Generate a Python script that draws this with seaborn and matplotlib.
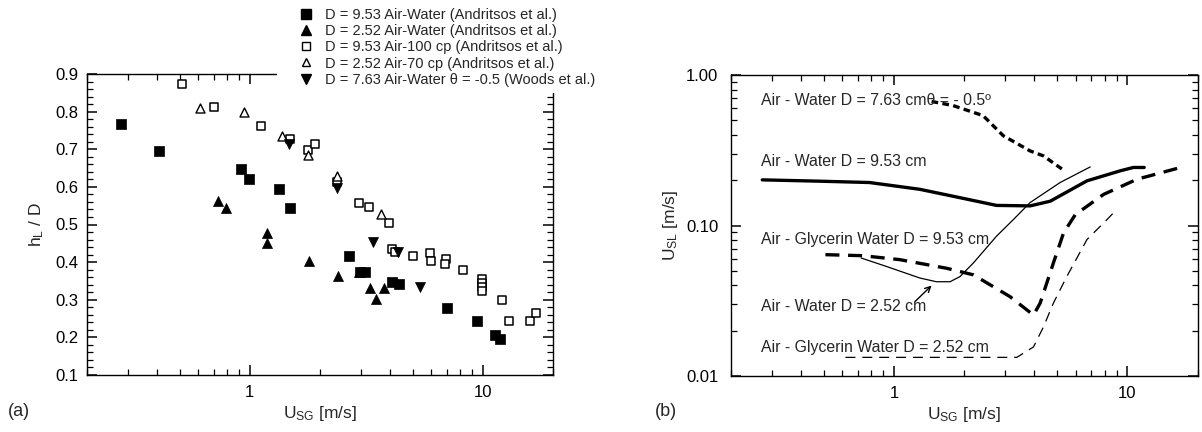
import numpy as np
import pandas as pd
import matplotlib
matplotlib.use("Agg")
import matplotlib.pyplot as plt
import seaborn as sns
from matplotlib.ticker import LogLocator, NullFormatter, MultipleLocator
from matplotlib.lines import Line2D
from matplotlib.patches import Rectangle

# ---------------- data: panel (a) ----------------
aw953_x = [0.28, 0.41, 0.92, 0.99, 1.34, 1.49, 2.65, 2.98, 3.13, 4.06, 4.38, 6.98, 9.45, 11.2, 11.8]
aw953_y = [0.766, 0.695, 0.647, 0.621, 0.595, 0.544, 0.416, 0.375, 0.375, 0.348, 0.341, 0.277, 0.243, 0.206, 0.197]

aw252_x = [0.73, 0.79, 1.19, 1.19, 1.79, 2.39, 2.95, 3.26, 3.48, 3.77]
aw252_y = [0.563, 0.543, 0.478, 0.451, 0.403, 0.363, 0.375, 0.330, 0.302, 0.330]

a100_x = [0.51, 0.70, 1.12, 1.49, 1.77, 1.91, 2.37, 2.95, 3.23, 3.94, 4.07, 4.21, 5.0, 5.95,
          5.98, 6.96, 6.9, 8.2, 9.89, 9.89, 9.89, 9.89, 12.0, 12.9, 15.9, 16.8]
a100_y = [0.873, 0.811, 0.762, 0.727, 0.698, 0.715, 0.614, 0.558, 0.547, 0.503, 0.436, 0.427, 0.416, 0.425,
          0.403, 0.407, 0.394, 0.379, 0.355, 0.345, 0.335, 0.322, 0.299, 0.244, 0.244, 0.264]

a70_x = [0.61, 0.94, 1.37, 1.77, 2.37, 3.66]
a70_y = [0.81, 0.80, 0.735, 0.685, 0.629, 0.528]

woods_x = [1.48, 2.37, 3.36, 4.31, 5.34]
woods_y = [0.713, 0.596, 0.454, 0.426, 0.333]

legend_labels = [
    "D = 9.53 Air-Water (Andritsos et al.)",
    "D = 2.52 Air-Water (Andritsos et al.)",
    "D = 9.53 Air-100 cp (Andritsos et al.)",
    "D = 2.52 Air-70 cp (Andritsos et al.)",
    "D = 7.63 Air-Water θ = -0.5 (Woods et al.)",
]

# ---------------- data: panel (b) ----------------
c763_x = [1.45, 1.79, 2.41, 2.94, 3.83, 4.37, 5.33]
c763_y = [0.667, 0.627, 0.537, 0.395, 0.313, 0.290, 0.233]

c953_x = [0.273, 0.48, 0.786, 1.29, 1.92, 2.75, 3.83, 4.67, 6.71, 9.33, 10.6, 11.8]
c953_y = [0.201, 0.197, 0.193, 0.174, 0.153, 0.136, 0.135, 0.145, 0.198, 0.231, 0.243, 0.243]

c252_x = [0.724, 0.927, 1.29, 1.52, 1.74, 1.92, 2.19, 2.75, 3.25, 3.83, 5.15, 6.93]
c252_y = [0.0608, 0.0535, 0.0448, 0.0423, 0.0423, 0.0458, 0.0564, 0.0849, 0.1096, 0.142, 0.193, 0.245]

g953_x = [0.509, 0.736, 1.06, 1.68, 2.19, 3.14, 3.96, 4.23, 4.82, 5.33, 5.98, 7.91, 11.0, 16.9]
g953_y = [0.064, 0.063, 0.0593, 0.052, 0.047, 0.0337, 0.0254, 0.0305, 0.0564, 0.0894, 0.118, 0.161, 0.203, 0.243]

g252_x = [0.62, 3.36, 3.96, 4.37, 4.82, 5.5, 6.71, 8.18, 8.88]
g252_y = [0.0133, 0.0133, 0.0156, 0.0212, 0.0305, 0.0458, 0.0806, 0.1096, 0.125]

curve_labels = [
    "Air - Water D = 7.63 cmθ = - 0.5º",
    "Air - Water D = 9.53 cm",
    "Air - Glycerin Water D = 9.53 cm",
    "Air - Water D = 2.52 cm",
    "Air - Glycerin Water D = 2.52 cm",
]
curve_text_y = [0.68, 0.268, 0.0806, 0.0288, 0.01556]

# ---------------- style ----------------
sns.set_style("ticks")
plt.rcParams["font.family"] = ["Liberation Sans", "DejaVu Sans"]
plt.rcParams["mathtext.fontset"] = "custom"
plt.rcParams["mathtext.rm"] = "Liberation Sans"
plt.rcParams["mathtext.it"] = "Liberation Sans:italic"
plt.rcParams["axes.linewidth"] = 1.0
plt.rcParams["xtick.direction"] = "in"
plt.rcParams["ytick.direction"] = "in"
plt.rcParams["xtick.top"] = True
plt.rcParams["ytick.right"] = True
plt.rcParams["xtick.color"] = "black"
plt.rcParams["ytick.color"] = "black"

W, H = 1202, 432
fig = plt.figure(figsize=(W / 100, H / 100), dpi=100)
axL = fig.add_axes([86.7 / W, 1 - 375 / H, (553.3 - 86.7) / W, 301 / H])
axR = fig.add_axes([730.7 / W, 1 - 376 / H, (1197.7 - 730.7) / W, 301 / H])

k = "black"
# ---- panel (a) scatter ----
sns.scatterplot(x=aw953_x, y=aw953_y, ax=axL, marker="s", s=58, color=k, edgecolor=k, linewidth=0.5, zorder=3)
sns.scatterplot(x=aw252_x, y=aw252_y, ax=axL, marker="^", s=52, color=k, edgecolor=k, linewidth=0.5, zorder=3)
sns.scatterplot(x=a100_x, y=a100_y, ax=axL, marker="s", s=40, facecolor="white", edgecolor=k, linewidth=1.1, zorder=3)
sns.scatterplot(x=a70_x, y=a70_y, ax=axL, marker="^", s=42, facecolor="white", edgecolor=k, linewidth=1.0, zorder=3)
sns.scatterplot(x=woods_x, y=woods_y, ax=axL, marker="v", s=52, color=k, edgecolor=k, linewidth=0.5, zorder=3)

axL.set_xscale("log")
axL.set_xlim(0.2, 20)
axL.set_ylim(0.1, 0.9)
axL.set_xticks([1, 10])
axL.set_xticklabels(["1", "10"])
axL.xaxis.set_minor_locator(LogLocator(base=10, subs=np.arange(2, 10)))
axL.xaxis.set_minor_formatter(NullFormatter())
axL.yaxis.set_minor_locator(MultipleLocator(0.02))
axL.set_yticks(np.round(np.arange(0.1, 0.91, 0.1), 1))
axL.set_yticklabels([f"{v:.1f}" for v in np.arange(0.1, 0.91, 0.1)])
axL.set_xlabel(r"U$_{\mathrm{SG}}$ [m/s]", fontsize=12.5, labelpad=3)
axL.set_ylabel(r"h$_{\mathrm{L}}$ / D", fontsize=12.5, labelpad=7)

# ---- panel (b) lines ----
sns.lineplot(x=c763_x, y=c763_y, ax=axR, sort=False, estimator=None, color=k, lw=2.4)
axR.lines[-1].set_dashes((2.0, 1.3))
sns.lineplot(x=c953_x, y=c953_y, ax=axR, sort=False, estimator=None, color=k, lw=2.4)
sns.lineplot(x=c252_x, y=c252_y, ax=axR, sort=False, estimator=None, color=k, lw=0.9)
sns.lineplot(x=g953_x, y=g953_y, ax=axR, sort=False, estimator=None, color=k, lw=2.4)
axR.lines[-1].set_dashes((4.2, 2.6))
sns.lineplot(x=g252_x, y=g252_y, ax=axR, sort=False, estimator=None, color=k, lw=0.9)
axR.lines[-1].set_dashes((8.0, 5.5))

axR.set_xscale("log")
axR.set_yscale("log")
axR.set_xlim(0.2, 20)
axR.set_ylim(0.01, 1.0)
axR.set_xticks([1, 10])
axR.set_xticklabels(["1", "10"])
axR.xaxis.set_minor_locator(LogLocator(base=10, subs=np.arange(2, 10)))
axR.xaxis.set_minor_formatter(NullFormatter())
axR.set_yticks([0.01, 0.1, 1.0])
axR.set_yticklabels(["0.01", "0.10", "1.00"])
axR.yaxis.set_minor_locator(LogLocator(base=10, subs=np.arange(2, 10)))
axR.yaxis.set_minor_formatter(NullFormatter())
axR.set_xlabel(r"U$_{\mathrm{SG}}$ [m/s]", fontsize=12.5, labelpad=3)
axR.set_ylabel(r"U$_{\mathrm{SL}}$ [m/s]", fontsize=12.5, labelpad=4)

for lab, ty in zip(curve_labels, curve_text_y):
    axR.text(0.27, ty, lab, fontsize=11.4, ha="left", va="center")
axR.annotate("", xy=(1.45, 0.0399), xytext=(1.23, 0.0312),
             arrowprops=dict(arrowstyle="->", lw=1.0, color=k, shrinkA=0, shrinkB=0))

for ax in (axL, axR):
    ax.tick_params(axis="both", which="both", direction="in", top=True, right=True,
                   bottom=True, left=True, labelsize=12, color=k, labelcolor=k)
    ax.tick_params(which="major", length=7, width=1.1)
    ax.tick_params(which="minor", length=4, width=0.9)
    ax.tick_params(axis="x", which="major", pad=7)
    for sp in ax.spines.values():
        sp.set_visible(True)
        sp.set_color(k)
axL.tick_params(axis="y", which="major", pad=6)
axR.tick_params(axis="y", which="major", pad=9)

# white mask behind the legend (covers top-right corner of panel a)
fig.patches.append(Rectangle((277 / W, 1 - 93 / H), 330 / W, 93 / H, transform=fig.transFigure,
                             facecolor="white", edgecolor="none", zorder=2))

handles = [
    Line2D([], [], ls="none", marker="s", ms=6.5, color=k),
    Line2D([], [], ls="none", marker="^", ms=6.5, color=k),
    Line2D([], [], ls="none", marker="s", ms=6, mfc="white", mec=k, mew=1.0),
    Line2D([], [], ls="none", marker="^", ms=6, mfc="white", mec=k, mew=1.0),
    Line2D([], [], ls="none", marker="v", ms=6.5, color=k),
]
leg = fig.legend(handles, legend_labels, loc="upper left", bbox_to_anchor=(291 / W, 1.0),
                 frameon=False, fontsize=10.5, handlelength=1.0, handletextpad=0.8,
                 labelspacing=0.15, borderpad=0.05)
leg.set_zorder(5)

fig.text(8 / W, 1 - 412 / H, "(a)", fontsize=13, ha="left", va="center")
fig.text(655 / W, 1 - 412 / H, "(b)", fontsize=13, ha="left", va="center")

fig.savefig("out.png", dpi=100)
